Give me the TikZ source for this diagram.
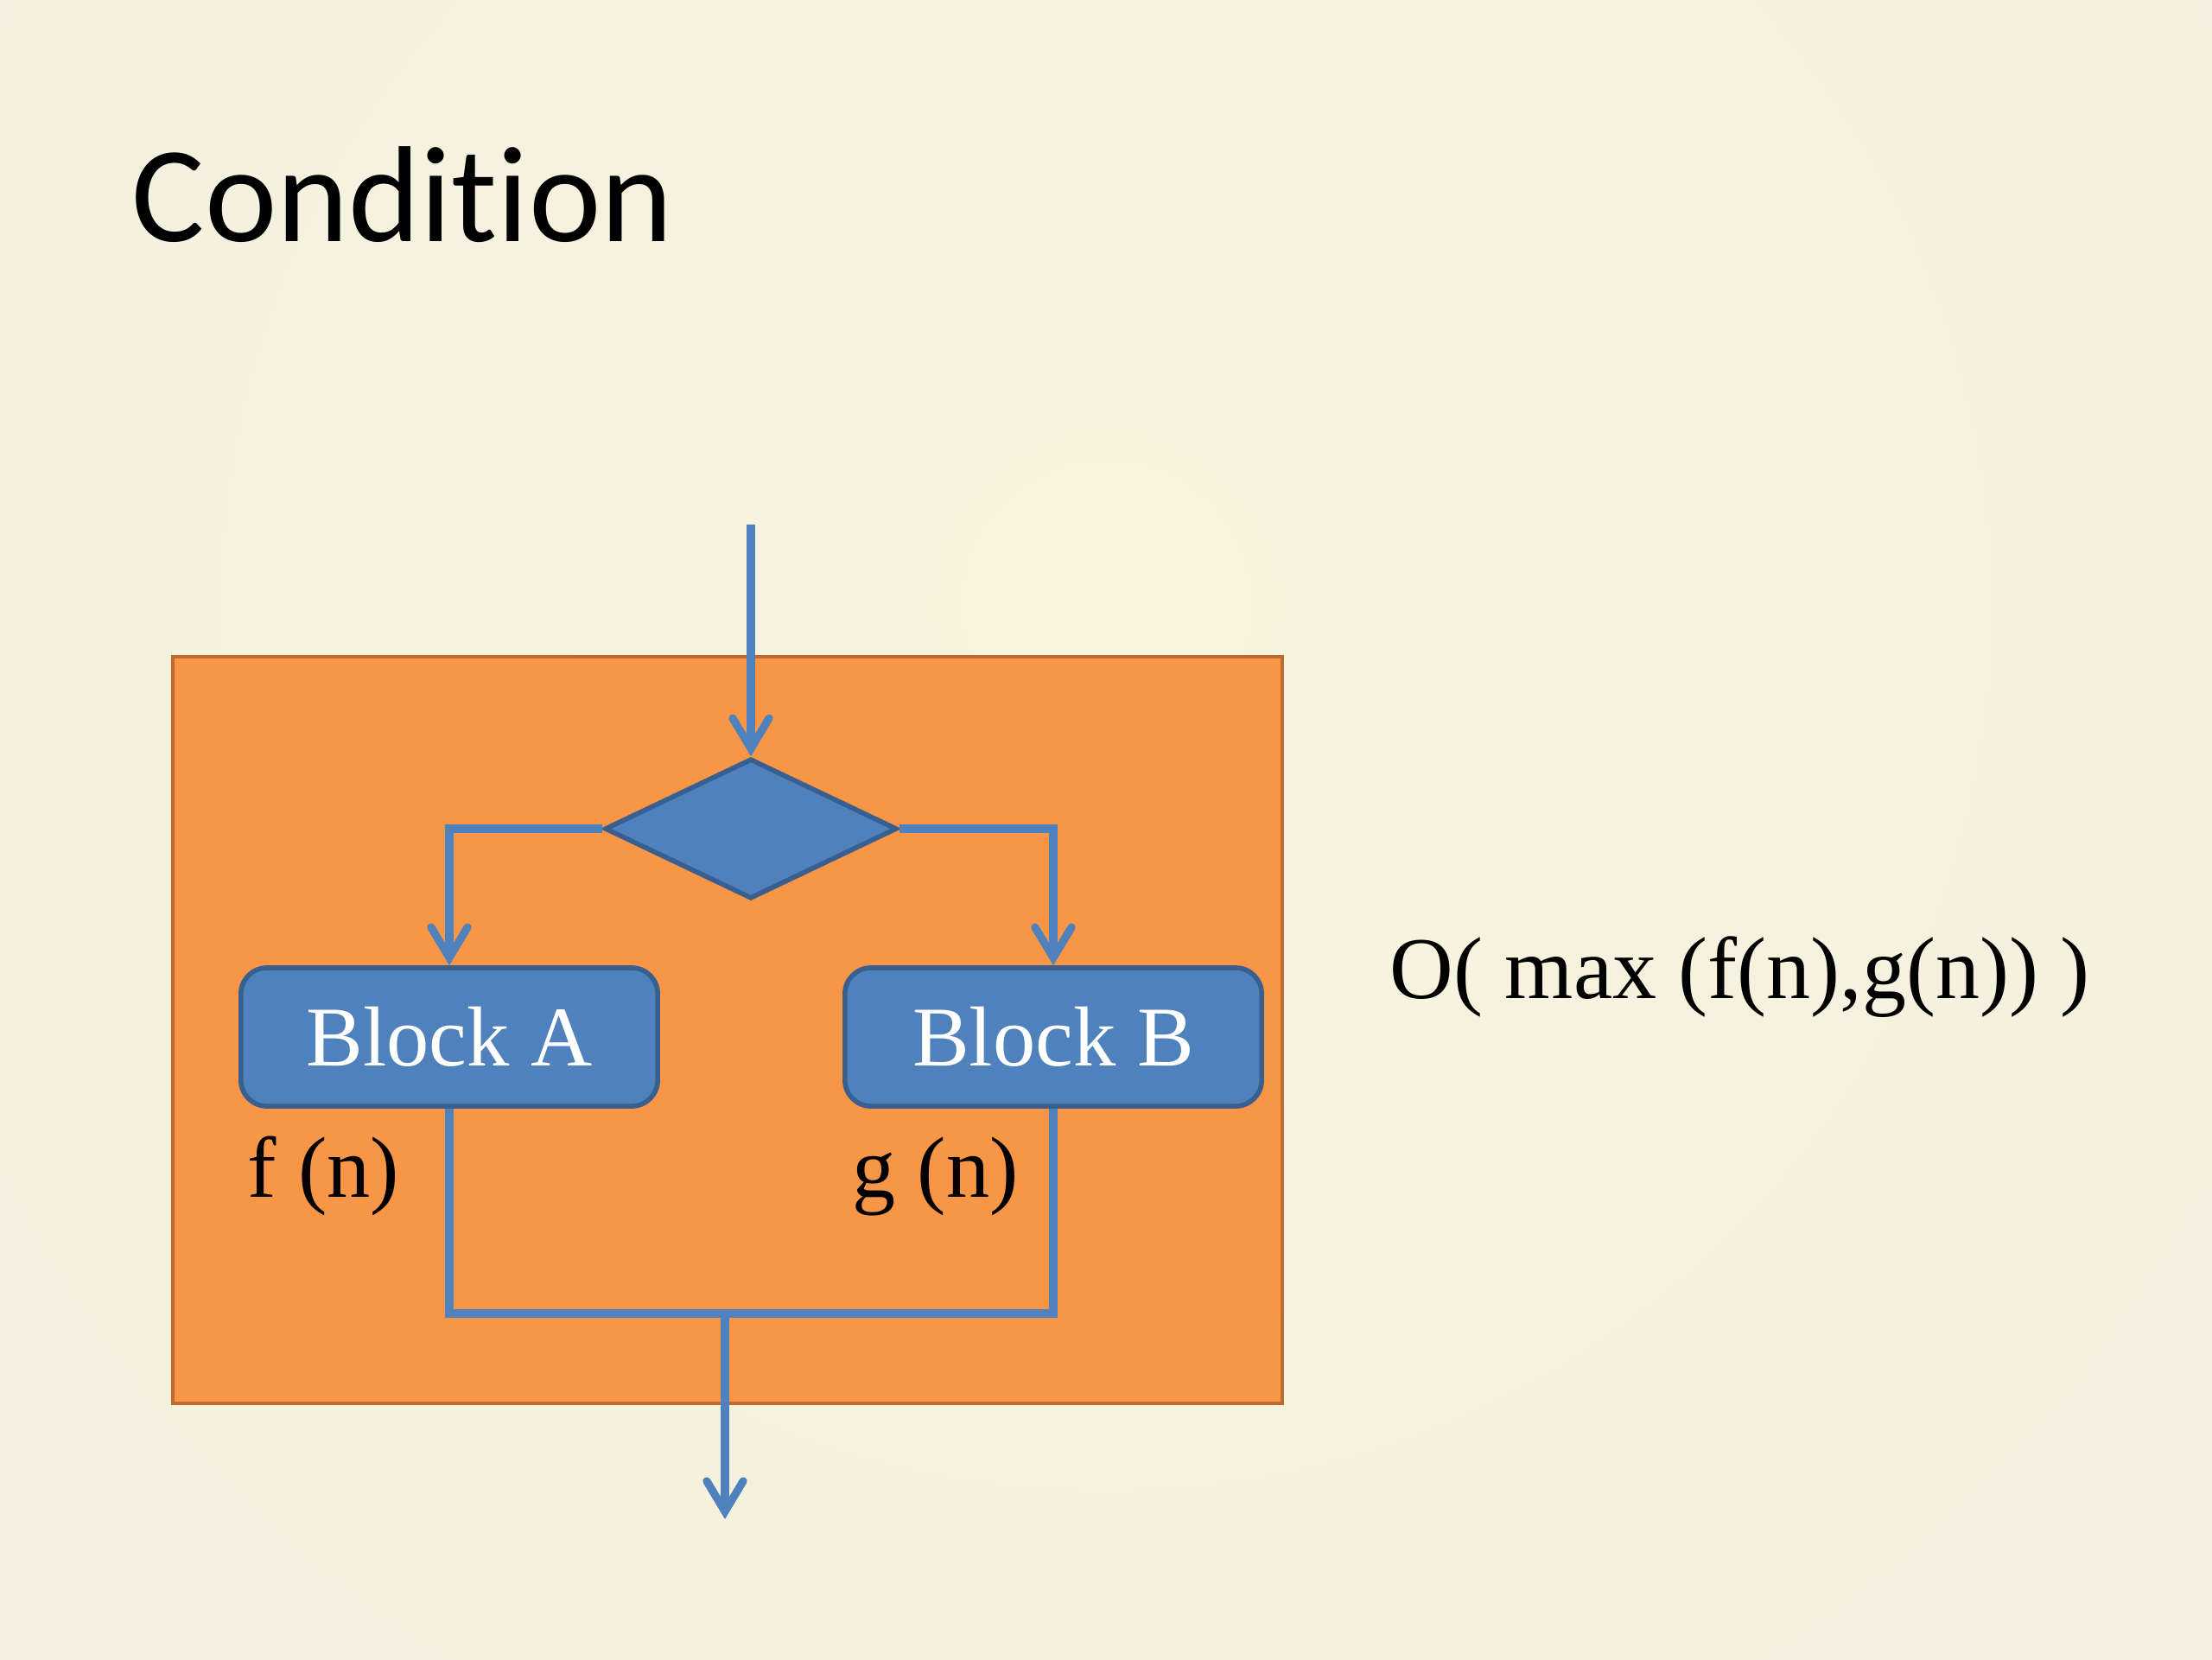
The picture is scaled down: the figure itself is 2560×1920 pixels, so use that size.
\documentclass[tikz,border=0pt]{standalone}
\usepackage{fontspec}
\setmainfont{Liberation Serif}
\newfontfamily\titlefont[Ligatures=NoCommon]{Carlito}
\usetikzlibrary{arrows.meta, positioning, shapes.geometric}
\definecolor{slideBg}{HTML}{F8F4DE}
\definecolor{slideEdge}{HTML}{EDEBE0}
\definecolor{boxOrange}{HTML}{F79646}
\definecolor{boxOrangeLine}{HTML}{BD6B2E}
\definecolor{flowBlue}{HTML}{4F81BD}
\definecolor{flowBlueLine}{HTML}{385F8F}
\pgfdeclareradialshading{slideGlow}{\pgfpoint{0bp}{0bp}}{color(0bp)=(slideBg); color(50bp)=(slideEdge)}

\begin{document}
\begin{tikzpicture}[
            x=0.01cm, y=-0.01cm,
            >={Straight Barb[length=10pt, width=12pt, line cap=round]},
            % connectors and shapes use the slide's blue accent
            flow/.style   ={draw=flowBlue, line width=2.6pt},
            decide/.style ={diamond, draw=flowBlueLine, fill=flowBlue, line width=1.6pt,
                    minimum width=3.38cm, minimum height=1.62cm, inner sep=0pt},
            block/.style  ={rectangle, draw=flowBlueLine, fill=flowBlue, line width=1.6pt,
                    rounded corners=0.3cm, minimum width=4.82cm, minimum height=1.6cm,
                    text=white, font=\fontsize{28}{34}\selectfont},
            lbl/.style    ={font=\fontsize{28.5}{34}\selectfont, inner sep=0pt, anchor=base west}
        ]

        \useasboundingbox (0,0) rectangle (2560,1920);
        \fill[slideEdge] (0,0) rectangle (2560,1920);
        \begin{scope}
            \clip (0,0) rectangle (2560,1920);
            \shade[shading=slideGlow] (1280,700) circle[radius=18.5cm];
        \end{scope}

        \node[font=\titlefont\fontsize{45}{54}\selectfont, inner sep=0pt, anchor=base west]
              (title) at (152,279) {Condition};

        % the whole if/else construct
        \node[draw=boxOrangeLine, fill=boxOrange, line width=1.2pt, inner sep=0pt,
              minimum width=12.83cm, minimum height=8.63cm, anchor=north west]
              (frame) at (198,758) {};

        \coordinate (entry) at (869,607);
        \node[decide] (cond)   at (869,959)  {};
        \node[block]  (blockA) at (520,1200) {Block A};
        \node[block]  (blockB) at (1219,1200) {Block B};
        \coordinate (join) at (839,1520);
        \coordinate (exit) at (839,1758);

        \node[lbl] (costA) at (286,1385) {f (n)};
        \node[lbl] (costB) at (986,1385) {g (n)};

        \node[font=\fontsize{29}{35}\selectfont, inner sep=0pt, anchor=west]
              (bound) at (1608,1131) {O( max (f(n),g(n)) )};

        \draw[flow, ->] (entry) -- (cond.north);
        \draw[flow, ->] (cond.west) -| (blockA.north);
        \draw[flow, ->] (cond.east) -| (blockB.north);
        \draw[flow] (blockA.south) |- (join) -| (blockB.south);
        \draw[flow, ->] (join) -- (exit);

    \end{tikzpicture}
\end{document}
